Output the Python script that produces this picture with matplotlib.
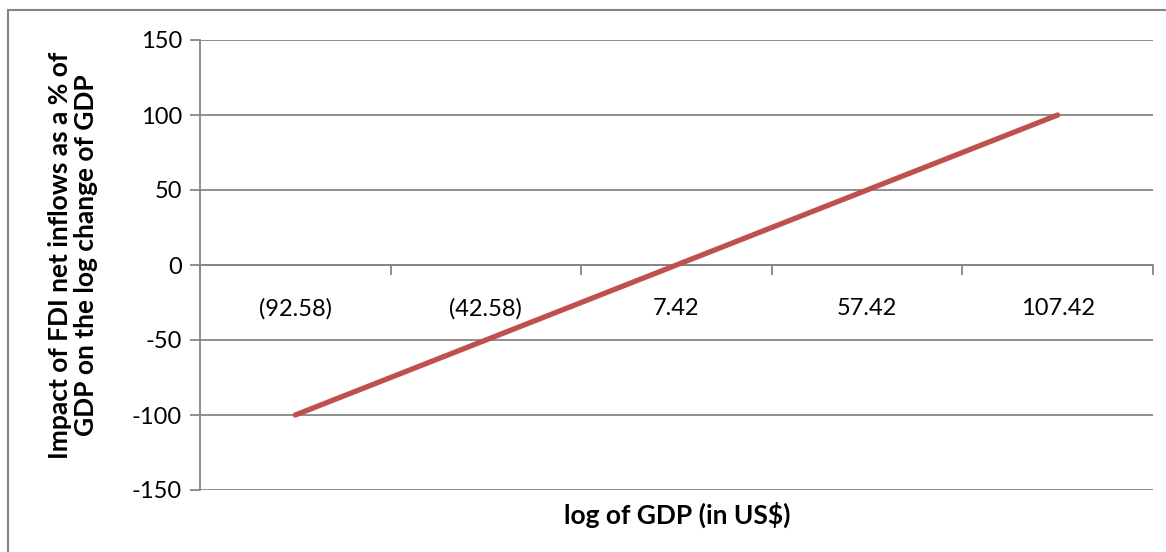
import matplotlib
matplotlib.use('Agg')
import matplotlib.pyplot as plt
from matplotlib.patches import Rectangle

# data
categories = ['(92.58)', '(42.58)', '7.42', '57.42', '107.42']
impact = [-100, -50, 0, 50, 100]
y_ticks = [-150, -100, -50, 0, 50, 100, 150]

plt.rcParams['font.family'] = ['Lato', 'DejaVu Sans']
grey = '#868686'

fig = plt.figure(figsize=(11.66, 5.52), dpi=100)
ax = fig.add_axes([200 / 1166, 1 - 490 / 552, 953 / 1166, 450 / 552])

# gridlines
for y in y_ticks:
    ax.axhline(y, color=grey, lw=1.3, zorder=1)

x = list(range(len(categories)))
ax.plot(x, impact, color='#C0504D', lw=3.8, solid_capstyle='round', zorder=3)

ax.set_xlim(-0.5, len(categories) - 0.5)
ax.set_ylim(-150, 150)

# category axis crosses at zero
ax.spines['bottom'].set_position(('data', 0))
ax.spines['bottom'].set_color(grey)
ax.spines['bottom'].set_linewidth(1.3)
ax.spines['left'].set_color(grey)
ax.spines['left'].set_linewidth(1.3)
ax.spines['top'].set_visible(False)
ax.spines['right'].set_visible(False)

ax.set_xticks([i - 0.5 for i in range(len(categories) + 1)])
ax.set_xticklabels([])
ax.set_xticks(x, minor=True)
ax.set_xticklabels(categories, minor=True, fontsize=17)
ax.tick_params(axis='x', which='major', direction='out', length=7, color=grey, width=1.3)
ax.tick_params(axis='x', which='minor', length=0, pad=24)

ax.set_yticks(y_ticks)
ax.set_yticklabels([str(v) for v in y_ticks], fontsize=17)
ax.tick_params(axis='y', direction='out', length=7, color=grey, width=1.3, pad=6)

fig.text(677 / 1166, 1 - 515 / 552, 'log of GDP (in US$)', ha='center', va='center',
         fontsize=19, fontweight='bold')
fig.text(73 / 1166, 1 - 255 / 552,
         'Impact of FDI net inflows as a % of\nGDP on the log change of GDP',
         ha='center', va='center', rotation=90, fontsize=19, fontweight='bold',
         linespacing=1.1)

# outer chart frame (cropped at right and bottom)
fig.patches.append(Rectangle((8 / 1166, -0.05), 1.2, 1 - 10 / 552 + 0.05,
                             transform=fig.transFigure, fill=False,
                             edgecolor=grey, lw=1.5))

fig.savefig('out.png', dpi=100)
